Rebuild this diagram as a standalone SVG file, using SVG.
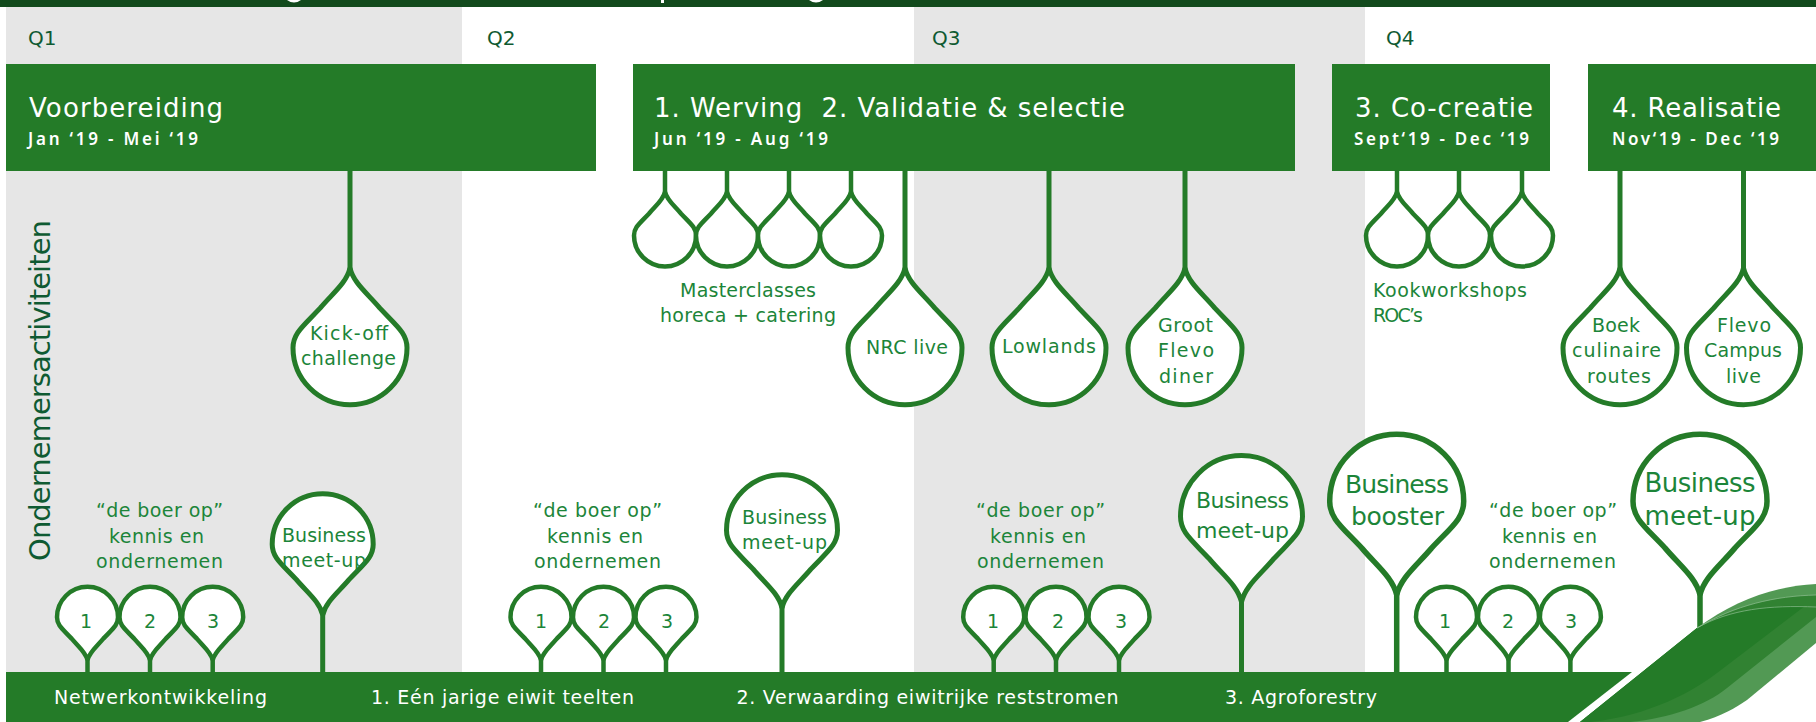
<svg xmlns="http://www.w3.org/2000/svg" width="1816" height="722" viewBox="0 0 1816 722">
<style>
text{font-family:"DejaVu Sans","Noto Sans",sans-serif}
.q{font-size:20px;fill:#0f5a32}
.h{font-size:26px;fill:#fff}
.d{font-size:17px;fill:#fff;font-weight:600;font-family:"Noto Sans",sans-serif}
.b{font-size:19px;fill:#fff}
.l{font-size:19px;fill:#1c8539}
.n{font-size:19px;fill:#1c8539;text-anchor:middle}
.drop{fill:#fff;stroke:#247b28;stroke-width:5}
.s{stroke-width:4.5}
.xl{stroke-width:5.5}
.st{stroke:#247b28;stroke-width:5;fill:none}
.sts{stroke-width:4.5}
</style>
<defs>
<path id="drop" vector-effect="non-scaling-stroke" d="M0 0C.06 .26 .3 .44 .52 .7C.82 1.02 1 1.14 1 1.4A1 1 0 0 1-1 1.4C-1 1.14-.82 1.02-.52 .7C-.3 .44-.06 .26 0 0Z"/>
</defs>
<g id="background">
<rect x="6" y="7" width="456" height="665" fill="#e6e6e6"/>
<rect x="914" y="7" width="451" height="665" fill="#e6e6e6"/>
<rect x="0" y="0" width="1816" height="7" fill="#124a1c"/>
<path d="M287 0Q294 5 301 0ZM661 0h3v3h-3ZM809 0Q816 5 823 0Z" fill="#fff"/>
</g>
<g id="quarters">
<text class="q" x="28" y="45">Q1</text>
<text class="q" x="487" y="45">Q2</text>
<text class="q" x="932" y="45">Q3</text>
<text class="q" x="1386" y="45">Q4</text>
</g>
<text id="side-label" transform="translate(50,561) rotate(-90)" font-size="29" fill="#0f5a32" textLength="341">Ondernemersactiviteiten</text>
<g id="connectors">
<path class="st" d="M350 171V272M905 171V272M1049 171V272M1185 171V272M1620 171V272M1743.500 171V272M322.700 672V611M782 672V604M1241.500 672V598"/>
<path class="st" style="stroke-width:5.500" d="M1396.700 672V591M1700 672V591"/>
<path class="st sts" d="M665 171V196M727 171V196M789 171V196M851 171V196M1397 171V196M1459 171V196M1522 171V196M87.500 672V656M150 672V656M212.700 672V656M541 672V656M603.500 672V656M666 672V656M993.700 672V656M1056 672V656M1119 672V656M1446.500 672V656M1508.500 672V656M1570.400 672V656"/>
</g>
<g id="header-voorbereiding"><rect x="6" y="64" width="590" height="107" fill="#247b28"/>
<text class="h" x="29" y="117" textLength="194">Voorbereiding</text>
<text class="d" x="28" y="145" textLength="170">Jan ‘19 - Mei ‘19</text></g>
<g id="header-werving"><rect x="633" y="64" width="662" height="107" fill="#247b28"/>
<text class="h" x="654" y="117" textLength="471" xml:space="preserve">1. Werving  2. Validatie &amp; selectie</text>
<text class="d" x="654" y="145" textLength="174">Jun ‘19 - Aug ‘19</text></g>
<g id="header-cocreatie"><rect x="1332" y="64" width="218" height="107" fill="#247b28"/>
<text class="h" x="1355" y="117" textLength="178">3. Co-creatie</text>
<text class="d" x="1354" y="145" textLength="175">Sept‘19 - Dec ‘19</text></g>
<g id="header-realisatie"><rect x="1588" y="64" width="228" height="107" fill="#247b28"/>
<text class="h" x="1612" y="117" textLength="169">4. Realisatie</text>
<text class="d" x="1612" y="145" textLength="167">Nov‘19 - Dec ‘19</text></g>
<g id="masterclasses">
<use href="#drop" class="drop s" transform="translate(665,192) scale(31)"/>
<use href="#drop" class="drop s" transform="translate(727,192) scale(31)"/>
<use href="#drop" class="drop s" transform="translate(789,192) scale(31)"/>
<use href="#drop" class="drop s" transform="translate(851,192) scale(31)"/>
<text class="l" x="680" y="297" textLength="136">Masterclasses</text>
<text class="l" x="660" y="322" textLength="176">horeca + catering</text>
</g>
<g id="kookworkshops">
<use href="#drop" class="drop s" transform="translate(1397,192) scale(31)"/>
<use href="#drop" class="drop s" transform="translate(1459,192) scale(31)"/>
<use href="#drop" class="drop s" transform="translate(1522,192) scale(31)"/>
<text class="l" x="1373" y="297" textLength="154">Kookworkshops</text>
<text class="l" x="1373" y="322" textLength="50">ROC’s</text>
</g>
<g id="kickoff"><use href="#drop" class="drop" transform="translate(350,268) scale(57)"/>
<text class="l" x="310" y="340" textLength="78">Kick-off</text>
<text class="l" x="301" y="365" textLength="95">challenge</text></g>
<g id="nrc"><use href="#drop" class="drop" transform="translate(905,268) scale(57)"/>
<text class="l" x="866" y="354" textLength="82">NRC live</text></g>
<g id="lowlands"><use href="#drop" class="drop" transform="translate(1049,268) scale(57)"/>
<text class="l" x="1002" y="353" textLength="94">Lowlands</text></g>
<g id="groot"><use href="#drop" class="drop" transform="translate(1185,268) scale(57)"/>
<text class="l" x="1158" y="332" textLength="55">Groot</text>
<text class="l" x="1158" y="357" textLength="56">Flevo</text>
<text class="l" x="1159" y="383" textLength="54">diner</text></g>
<g id="boek"><use href="#drop" class="drop" transform="translate(1620,268) scale(57)"/>
<text class="l" x="1592" y="332" textLength="48">Boek</text>
<text class="l" x="1572" y="357" textLength="89">culinaire</text>
<text class="l" x="1587" y="383" textLength="64">routes</text></g>
<g id="flevo"><use href="#drop" class="drop" transform="translate(1743.500,268) scale(57)"/>
<text class="l" x="1717" y="332" textLength="54">Flevo</text>
<text class="l" x="1704" y="357" textLength="78">Campus</text>
<text class="l" x="1726" y="383" textLength="35">live</text></g>
<g id="boer-1">
<text class="l" x="96" y="517" textLength="127">“de boer op”</text>
<text class="l" x="109" y="543" textLength="95">kennis en</text>
<text class="l" x="96" y="568" textLength="127">ondernemen</text>
<use href="#drop" class="drop s" transform="translate(87.500,660) scale(30.500,-30.500)"/>
<use href="#drop" class="drop s" transform="translate(150,660) scale(30.500,-30.500)"/>
<use href="#drop" class="drop s" transform="translate(212.700,660) scale(30.500,-30.500)"/>
<text class="n" x="86" y="628">1</text><text class="n" x="150" y="628">2</text><text class="n" x="213" y="628">3</text>
</g>
<g id="boer-2">
<text class="l" x="533" y="517" textLength="129">“de boer op”</text>
<text class="l" x="547" y="543" textLength="96">kennis en</text>
<text class="l" x="534" y="568" textLength="127">ondernemen</text>
<use href="#drop" class="drop s" transform="translate(541,660) scale(30.500,-30.500)"/>
<use href="#drop" class="drop s" transform="translate(603.500,660) scale(30.500,-30.500)"/>
<use href="#drop" class="drop s" transform="translate(666,660) scale(30.500,-30.500)"/>
<text class="n" x="541" y="628">1</text><text class="n" x="604" y="628">2</text><text class="n" x="667" y="628">3</text>
</g>
<g id="boer-3">
<text class="l" x="976" y="517" textLength="129">“de boer op”</text>
<text class="l" x="990" y="543" textLength="96">kennis en</text>
<text class="l" x="977" y="568" textLength="127">ondernemen</text>
<use href="#drop" class="drop s" transform="translate(993.700,660) scale(30.500,-30.500)"/>
<use href="#drop" class="drop s" transform="translate(1056,660) scale(30.500,-30.500)"/>
<use href="#drop" class="drop s" transform="translate(1119,660) scale(30.500,-30.500)"/>
<text class="n" x="993" y="628">1</text><text class="n" x="1058" y="628">2</text><text class="n" x="1121" y="628">3</text>
</g>
<g id="boer-4">
<text class="l" x="1489" y="517" textLength="128">“de boer op”</text>
<text class="l" x="1502" y="543" textLength="95">kennis en</text>
<text class="l" x="1489" y="568" textLength="127">ondernemen</text>
<use href="#drop" class="drop s" transform="translate(1446.500,660) scale(30.500,-30.500)"/>
<use href="#drop" class="drop s" transform="translate(1508.500,660) scale(30.500,-30.500)"/>
<use href="#drop" class="drop s" transform="translate(1570.400,660) scale(30.500,-30.500)"/>
<text class="n" x="1445" y="628">1</text><text class="n" x="1508" y="628">2</text><text class="n" x="1571" y="628">3</text>
</g>
<g id="meetup-1"><use href="#drop" class="drop" transform="translate(322.700,615) scale(50.500,-50.500)"/>
<text class="l" x="282" y="542" textLength="84">Business</text>
<text class="l" x="282" y="567" textLength="84">meet-up</text></g>
<g id="meetup-2"><use href="#drop" class="drop" transform="translate(782,608) scale(55.500,-55.500)"/>
<text class="l" x="742" y="524" textLength="85">Business</text>
<text class="l" x="742" y="549" textLength="85">meet-up</text></g>
<g id="meetup-3"><use href="#drop" class="drop" transform="translate(1241.500,602) scale(61,-61)"/>
<text class="l" style="font-size:22px" x="1196" y="508" textLength="93">Business</text>
<text class="l" style="font-size:22px" x="1196" y="538" textLength="93">meet-up</text></g>
<g id="booster"><use href="#drop" class="drop xl" transform="translate(1396.700,595) scale(67,-67)"/>
<text class="l" style="font-size:25px" x="1345" y="493" textLength="104">Business</text>
<text class="l" style="font-size:25px" x="1351" y="525" textLength="93">booster</text></g>
<g id="meetup-4"><use href="#drop" class="drop xl" transform="translate(1700,595) scale(67,-67)"/>
<text class="l" style="font-size:26px" x="1644.500" y="492" textLength="111">Business</text>
<text class="l" style="font-size:26px" x="1644.500" y="525" textLength="111">meet-up</text></g>
<g id="bottom-bar">
<path d="M6 672H1632L1568 722H6Z" fill="#247b28"/>
<text class="b" x="54" y="704" textLength="213">Netwerkontwikkeling</text>
<text class="b" x="371" y="704" textLength="263">1. Eén jarige eiwit teelten</text>
<text class="b" x="736.500" y="704" textLength="382">2. Verwaarding eiwitrijke reststromen</text>
<text class="b" x="1225" y="704" textLength="152">3. Agroforestry</text>
</g>
<g id="leaf">
<path d="M1580 722L1697 628C1735 600 1775 586 1816 584V643L1747 700C1735 708 1722 716 1700 722Z" fill="#529954"/>
<path d="M1580 722L1697 628C1735 605 1775 596 1816 595V617L1727 688C1705 706 1670 718 1630 722Z" fill="#318232"/>
<path d="M1580 722L1697 628C1730 609 1770 605 1805 606L1717 673C1695 690 1650 716 1590 722Z" fill="#247b28"/>
<path d="M1697 628C1735 605 1775 596 1816 595M1697 628C1730 609 1770 605 1816 607" fill="none" stroke="#8fbf92" stroke-width=".7"/>
</g>
</svg>
